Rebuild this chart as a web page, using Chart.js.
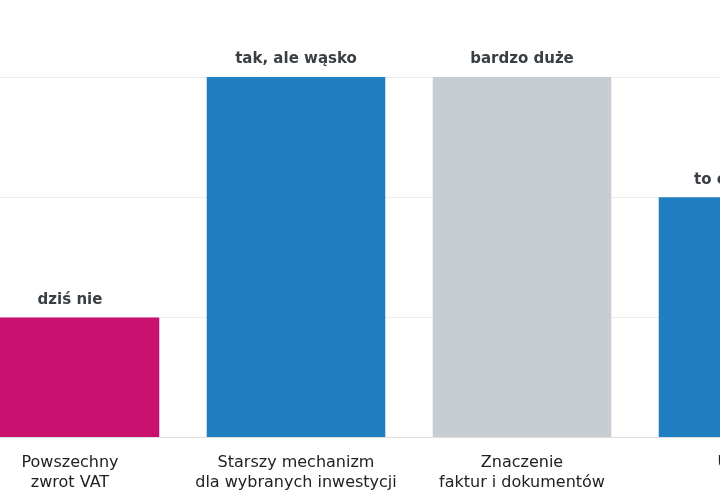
<!DOCTYPE html>
<html><head><meta charset="utf-8">
<script src="https://cdn.jsdelivr.net/npm/chart.js@4"></script>
<style>html,body{margin:0;padding:0;overflow:hidden;background:#fff;width:720px;height:500px}
#w{position:absolute;left:-43px;top:0;width:904px;height:500px}</style></head>
<body><div id="w"><canvas id="c"></canvas></div>
<script>
const categories=[["Powszechny","zwrot VAT"],["Starszy mechanizm","dla wybranych inwestycji"],["Znaczenie","faktur i dokumentów"],["Ulga na","zwrot"]];
const values=[1,3,3,2];
const barLabels=["dziś nie","tak, ale wąsko","bardzo duże","to częściowo"];
const colors=["#C8106E","#1F7FC0","#C8CCD3","#1F7FC0"];
const topLabels={id:'tl',afterDatasetsDraw(ch){const ctx=ch.ctx;const m=ch.getDatasetMeta(0);ctx.save();ctx.font='bold 15px "DejaVu Sans"';ctx.fillStyle='#3a3f44';ctx.textAlign='center';ctx.textBaseline='bottom';m.data.forEach((b,i)=>ctx.fillText(barLabels[i],b.x,b.y-10));ctx.restore();}};
Chart.defaults.font.family='"DejaVu Sans"';
new Chart(document.getElementById('c'),{type:'bar',data:{labels:categories,datasets:[{data:values,backgroundColor:colors,categoryPercentage:1,barPercentage:0.79}]},
options:{responsive:true,maintainAspectRatio:false,animation:false,layout:{padding:{top:77,left:0,right:0,bottom:0}},
plugins:{legend:{display:false},tooltip:{enabled:false}},
scales:{x:{grid:{display:false},border:{color:'#e0e0e0'},ticks:{color:'#222',font:{size:16},padding:8}},
y:{min:0,max:3,ticks:{display:false,stepSize:1},border:{display:false},grid:{color:'#ececec',drawTicks:false}}}},plugins:[topLabels]});
</script></body></html>
